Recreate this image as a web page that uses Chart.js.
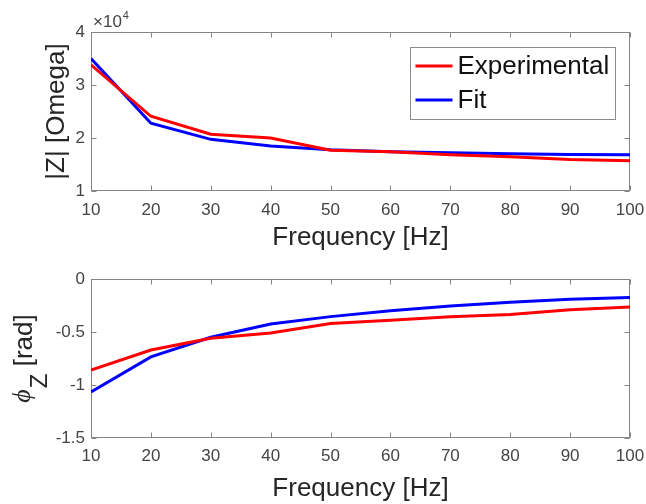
<!DOCTYPE html>
<html><head><meta charset="utf-8">
<script src="https://cdn.jsdelivr.net/npm/chart.js@4.4.0/dist/chart.umd.min.js"></script>
<style>
html,body{margin:0;padding:0;background:#fff;}
#wrap{position:relative;width:646px;height:504px;overflow:hidden;}
.box{position:absolute;left:0;width:646px;height:252px;}
</style></head><body>
<div id="wrap">
<div class="box" style="top:0"><canvas id="c1"></canvas></div>
<div class="box" style="top:252px"><canvas id="c2"></canvas></div>
</div>
<script>
// ---- data ----
const frequencies = [10, 20, 30, 40, 50, 60, 70, 80, 90, 100];
const magExperimental = [33800, 24100, 20700, 20000, 17700, 17400, 16850, 16450, 15950, 15700];
const magFit = [35000, 22800, 19750, 18500, 17800, 17400, 17200, 17050, 16900, 16850];
const phaseExperimental = [-0.86, -0.67, -0.56, -0.51, -0.42, -0.39, -0.355, -0.335, -0.29, -0.265];
const phaseFit = [-1.065, -0.735, -0.55, -0.425, -0.355, -0.30, -0.255, -0.22, -0.19, -0.175];
const xTickLabels = [10, 20, 30, 40, 50, 60, 70, 80, 90, 100];
const magTickLabels = [1, 2, 3, 4];          // in units of 10^4
const magExponent = 4;
const phaseTickLabels = [-1.5, -1, -0.5, 0];
const seriesNames = ['Experimental', 'Fit'];
const seriesColors = ['#ff0000', '#0000ff'];
const xTitle = 'Frequency [Hz]';
const magTitle = '|Z| [Omega]';

const FONT = '"Liberation Sans", Arial, sans-serif';
const AXIS_COLOR = '#858585';
const TICK_COLOR = '#444444';
const TITLE_COLOR = '#262626';

function pts(ys) { return frequencies.map((f, i) => ({x: f, y: ys[i]})); }

const framePlugin = {
  id: 'frame',
  beforeDatasetsDraw(chart) {
    const {ctx, chartArea: a, scales: {x, y}} = chart;
    ctx.save();
    ctx.strokeStyle = AXIS_COLOR;
    ctx.lineWidth = 1;
    const L = Math.round(a.left) + 0.5, R = Math.round(a.right) - 0.5;
    const T = Math.round(a.top) + 0.5, B = Math.round(a.bottom) - 0.5;
    ctx.strokeRect(L, T, R - L, B - T);
    const tl = 5;
    ctx.beginPath();
    x.ticks.forEach(t => {
      const px = Math.round(x.getPixelForValue(t.value)) + 0.5;
      ctx.moveTo(px, B); ctx.lineTo(px, B - tl);
      ctx.moveTo(px, T); ctx.lineTo(px, T + tl);
    });
    y.ticks.forEach(t => {
      const py = Math.round(y.getPixelForValue(t.value)) + 0.5;
      ctx.moveTo(L, py); ctx.lineTo(L + tl, py);
      ctx.moveTo(R, py); ctx.lineTo(R - tl, py);
    });
    ctx.stroke();
    ctx.restore();
  },
  afterDraw(chart, args, opts) {
    const {ctx, chartArea: a} = chart;
    ctx.save();
    if (opts.exponent) {
      ctx.fillStyle = TICK_COLOR;
      ctx.textBaseline = 'alphabetic';
      ctx.textAlign = 'left';
      ctx.font = '17px ' + FONT;
      const base = '\u00d710';
      ctx.fillText(base, a.left + 2, a.top - 5);
      const w = ctx.measureText(base).width;
      ctx.font = '11px ' + FONT;
      ctx.fillText(String(opts.exponent), a.left + 2 + w + 1, a.top - 13);
    }
    if (opts.legend) {
      const ds = chart.data.datasets;
      ctx.font = '26px ' + FONT;
      let tw = 0;
      ds.forEach(d => { tw = Math.max(tw, ctx.measureText(d.label).width); });
      const bw = Math.round(5 + 37 + 5 + tw + 6);
      const bh = 72;
      const bx = Math.round(a.right - 15 - bw) + 0.5;
      const by = Math.round(a.top + 15) + 0.5;
      ctx.fillStyle = '#ffffff';
      ctx.fillRect(bx, by, bw, bh);
      ctx.strokeStyle = '#8c8c8c';
      ctx.lineWidth = 1;
      ctx.strokeRect(bx, by, bw, bh);
      ds.forEach((d, i) => {
        const ry = by + 18.5 + i * 34;
        ctx.strokeStyle = d.borderColor;
        ctx.lineWidth = 3;
        ctx.beginPath();
        ctx.moveTo(bx + 5, ry); ctx.lineTo(bx + 42, ry);
        ctx.stroke();
        ctx.fillStyle = '#111111';
        ctx.textAlign = 'left';
        ctx.textBaseline = 'middle';
        ctx.fillText(d.label, bx + 47, ry + 1);
      });
    }
    if (opts.phiTitle) {
      const cy = (a.top + a.bottom) / 2;
      ctx.translate(25, cy);
      ctx.rotate(-Math.PI / 2);
      ctx.fillStyle = TITLE_COLOR;
      ctx.textBaseline = 'middle';
      ctx.textAlign = 'left';
      const phiFont = 'italic 26px "Liberation Serif", "DejaVu Serif", serif';
      const subFont = '24px ' + FONT;
      const restFont = '26px ' + FONT;
      const phi = '\u03d5', sub = 'Z', rest = ' [rad]';
      ctx.font = phiFont; const w1 = ctx.measureText(phi).width;
      ctx.font = subFont; const w2 = ctx.measureText(sub).width;
      ctx.font = restFont; const w3 = ctx.measureText(rest).width;
      let x0 = -(w1 + w2 + 1 + w3) / 2;
      ctx.font = phiFont; ctx.fillText(phi, x0, -2);
      x0 += w1 + 1;
      ctx.font = subFont; ctx.fillText(sub, x0, 15);
      x0 += w2;
      ctx.font = restFont; ctx.fillText(rest, x0, 0);
    }
    ctx.restore();
  }
};

function makeChart(id, ys1, ys2, cfg) {
  return new Chart(document.getElementById(id), {
    type: 'line',
    data: {
      datasets: [
        {label: seriesNames[0], data: pts(ys1), borderColor: seriesColors[0], backgroundColor: seriesColors[0],
         borderWidth: 3, pointRadius: 0, tension: 0, fill: false},
        {label: seriesNames[1], data: pts(ys2), borderColor: seriesColors[1], backgroundColor: seriesColors[1],
         borderWidth: 3, pointRadius: 0, tension: 0, fill: false}
      ]
    },
    options: {
      responsive: true,
      maintainAspectRatio: false,
      animation: false,
      devicePixelRatio: 1,
      layout: {padding: {left: 0, right: 16, top: cfg.top, bottom: 0}},
      plugins: {
        legend: {display: false},
        tooltip: {enabled: false},
        frame: cfg.frame
      },
      scales: {
        x: {
          type: 'linear',
          min: xTickLabels[0], max: xTickLabels[xTickLabels.length - 1],
          afterBuildTicks: s => { s.ticks = xTickLabels.map(v => ({value: v})); },
          afterFit: s => { s.height = cfg.xHeight; s.paddingLeft = 0; s.paddingRight = 0; },
          grid: {display: false, drawTicks: false},
          border: {display: false},
          ticks: {color: TICK_COLOR, font: {size: 17, family: FONT}, padding: cfg.xTickPad,
                  maxRotation: 0, autoSkip: false, callback: v => String(v)},
          title: {display: true, text: xTitle, color: TITLE_COLOR,
                  font: {size: 26, family: FONT, lineHeight: 1.2}, padding: {top: 0, bottom: cfg.xTitlePad}}
        },
        y: {
          type: 'linear',
          min: cfg.yTicks[0], max: cfg.yTicks[cfg.yTicks.length - 1],
          afterBuildTicks: s => { s.ticks = cfg.yTicks.map(v => ({value: v})); },
          afterFit: s => { s.width = 91; s.paddingTop = 0; s.paddingBottom = 0; },
          grid: {display: false, drawTicks: false},
          border: {display: false},
          ticks: {color: TICK_COLOR, font: {size: 17, family: FONT}, padding: 6,
                  autoSkip: false, callback: cfg.yLabel},
          title: cfg.yTitle
        }
      }
    },
    plugins: [framePlugin]
  });
}

const scaleFactor = Math.pow(10, magExponent);
makeChart('c1', magExperimental, magFit, {
  top: 32, xHeight: 61, xTickPad: 9, xTitlePad: -1,
  yTicks: magTickLabels.map(v => v * scaleFactor),
  yLabel: v => String(Math.round(v / scaleFactor * 100) / 100),
  yTitle: {display: true, text: magTitle, color: TITLE_COLOR,
           font: {size: 26, family: FONT, lineHeight: 1.2}, padding: {top: 41, bottom: 0}},
  frame: {exponent: magExponent, legend: true}
});
makeChart('c2', phaseExperimental, phaseFit, {
  top: 27, xHeight: 66, xTickPad: 8, xTitlePad: 0,
  yTicks: phaseTickLabels,
  yLabel: v => String(v),
  yTitle: {display: false},
  frame: {phiTitle: true}
});
</script>
</body></html>
